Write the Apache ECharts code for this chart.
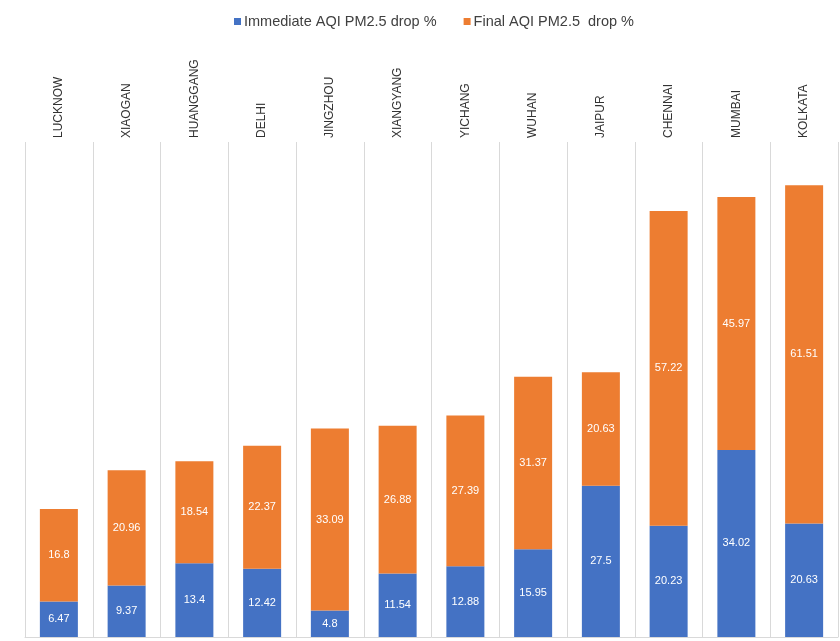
<!DOCTYPE html>
<html>
<head>
<meta charset="utf-8">
<script src="https://cdn.jsdelivr.net/npm/echarts@6/dist/echarts.min.js"></script>
<style>
  html, body { margin: 0; padding: 0; background: #fff; }
  #chart { width: 840px; height: 641px; }
</style>
</head>
<body>
<div id="chart"></div>
<script>
// Cities ordered by total PM2.5 drop
const cities = ['LUCKNOW', 'XIAOGAN', 'HUANGGANG', 'DELHI', 'JINGZHOU', 'XIANGYANG',
                'YICHANG', 'WUHAN', 'JAIPUR', 'CHENNAI', 'MUMBAI', 'KOLKATA'];
const immediateDrop = [6.47, 9.37, 13.4, 12.42, 4.8, 11.54, 12.88, 15.95, 27.5, 20.23, 34.02, 20.63];
const finalDrop = [16.8, 20.96, 18.54, 22.37, 33.09, 26.88, 27.39, 31.37, 20.63, 57.22, 45.97, 61.51];
const seriesNames = ['Immediate AQI PM2.5 drop %', 'Final AQI PM2.5  drop %'];

const chart = echarts.init(document.getElementById('chart'), null, { renderer: 'canvas' });

const valueLabel = {
  show: true,
  position: 'inside',
  color: '#ffffff',
  fontSize: 11,
  fontFamily: 'Liberation Sans, Arial, sans-serif'
};

chart.setOption({
  animation: false,
  backgroundColor: '#ffffff',
  color: ['#4472C4', '#ED7D31'],
  legend: {
    top: 9,
    left: 229,
    itemWidth: 7,
    itemHeight: 7,
    itemGap: 27,
    icon: 'rect',
    textStyle: { color: '#404040', fontSize: 14.5, fontFamily: 'Liberation Sans, Arial, sans-serif', padding: [0, 0, 0, -2] },
    data: seriesNames
  },
  grid: { left: 25, right: 2, top: 142, bottom: 4, containLabel: false },
  xAxis: [
    {
      type: 'category',
      position: 'top',
      data: cities,
      axisLine: { show: false },
      axisTick: { show: false },
      splitLine: { show: true, lineStyle: { color: '#d9d9d9', width: 1 } },
      axisLabel: {
        rotate: 90,
        margin: 4,
        color: '#333333',
        fontSize: 12,
        fontFamily: 'Liberation Sans, Arial, sans-serif'
      }
    },
    {
      type: 'category',
      position: 'bottom',
      data: cities,
      axisLine: { show: true, lineStyle: { color: '#d9d9d9', width: 1 } },
      axisTick: { show: false },
      axisLabel: { show: false },
      splitLine: { show: false }
    }
  ],
  yAxis: {
    type: 'value',
    min: 0,
    max: 90,
    show: false
  },
  series: [
    {
      name: seriesNames[0],
      type: 'bar',
      stack: 'drop',
      xAxisIndex: 0,
      barWidth: 38,
      data: immediateDrop,
      label: valueLabel
    },
    {
      name: seriesNames[1],
      type: 'bar',
      stack: 'drop',
      xAxisIndex: 0,
      barWidth: 38,
      data: finalDrop,
      label: valueLabel
    }
  ]
});
</script>
</body>
</html>
